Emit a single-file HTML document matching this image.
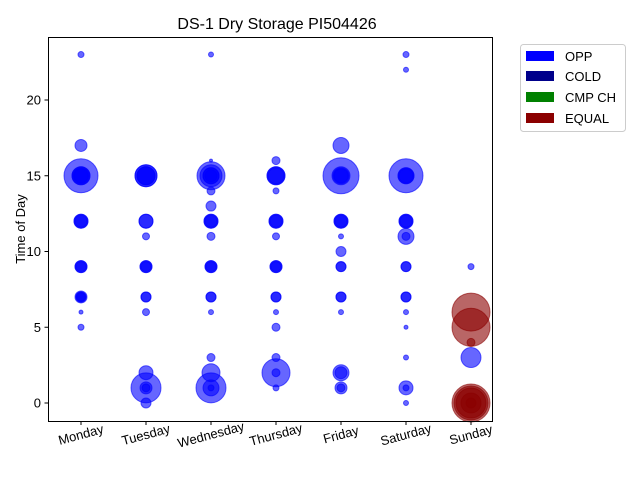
<!DOCTYPE html>
<html><head><meta charset="utf-8"><style>
body{margin:0;background:#fff;font-family:"Liberation Sans",sans-serif}
svg text{font-family:"Liberation Sans",sans-serif}
</style></head><body>
<svg id="chart" width="640" height="480" viewBox="0 0 640 480">
<rect width="640" height="480" fill="#fff"/>
<text x="277" y="29" font-size="16" text-anchor="middle">DS-1 Dry Storage PI504426</text>
<g id="marks"></g>
<g id="axes"></g>
<g>
<rect x="520.5" y="44.5" width="105" height="87" rx="3" fill="#fff" stroke="#ccc"/>
<rect x="526" y="51" width="28" height="10" fill="#0000ff"/>
<text x="565" y="61" font-size="13">OPP</text>
<rect x="526" y="71" width="28" height="10" fill="#00008b"/>
<text x="565" y="81" font-size="13">COLD</text>
<rect x="526" y="92" width="28" height="10" fill="#008000"/>
<text x="565" y="102" font-size="13">CMP CH</text>
<rect x="526" y="113" width="28" height="10" fill="#8b0000"/>
<text x="565" y="123" font-size="13">EQUAL</text>
</g>
</svg>
<script>
const categories=["Monday","Tuesday","Wednesday","Thursday","Friday","Saturday","Sunday"];
const yTicks=[0,5,10,15,20];
const ptDay=[0,0,0,0,0,0,0,0,0,0,0,0,0,0,0,
1,1,1,1,1,1,1,1,1,1,1,1,1,
2,2,2,2,2,2,2,2,2,2,2,2,2,2,2,2,2,2,2,2,
3,3,3,3,3,3,3,3,3,3,3,3,3,3,3,3,
4,4,4,4,4,4,4,4,4,4,4,4,4,4,4,
5,5,5,5,5,5,5,5,5,5,5,5,5,5,5,5,5,
6,6,6,6,6,6,6,6,6,
0,0,0,0,1,1,1,1,1,2,2,2,2,3,3,3,3,4,4,4,4,5,5,5,5,6];
const ptHour=[23,17,15,15,15,12,12,9,9,7,7,6,5,15,7,
15,15,12,11,9,9,7,6,2,1,1,1,0,
23,16,15,15,15,15,14,13,12,12,11,9,9,7,6,3,2,1,1,1,
16,15,15,14,12,12,11,9,9,7,6,5,3,2,2,1,
17,15,15,15,12,12,11,10,9,7,6,2,2,1,1,
23,22,15,15,15,12,12,11,11,9,7,6,5,3,1,1,0,
9,3,6,5,4,0,0,0,0,
15,12,9,7,15,15,12,9,7,12,9,7,15,15,12,9,7,15,12,9,7,15,12,9,7,0];
const ptRadius=[3,6,17,9,8,7,6,6,5,6,4,2,3,7,5,
11,9,7,3.5,6,5,5,3.5,7,15,6,4,5,
2.5,1.5,14,11,8,6,4,5,7,6,4,6,5,5,2.5,4,9,15,8,3,
4,9,8,3,7,6,3.5,6,5,5,2.5,4,4,14,4,3,
8,18,9,7,7,6,2.5,5,5,5,2.5,8,6,6,4,
3,2.5,17,8,7,7,6,8,4,5,5,2.5,2,2.5,7,3,2.5,
3,10,19,19,4,19,15,10,5,
9,7,6,5,11,9,7,6,5,7,6,5,8,9,7,6,5,8,7,5,5,8,7,5,5,17];
const ptSeries=["OPP","OPP","OPP","OPP","OPP","OPP","OPP","OPP","OPP","OPP","OPP","OPP","OPP","OPP","OPP",
"OPP","OPP","OPP","OPP","OPP","OPP","OPP","OPP","OPP","OPP","OPP","OPP","OPP",
"OPP","OPP","OPP","OPP","OPP","OPP","OPP","OPP","OPP","OPP","OPP","OPP","OPP","OPP","OPP","OPP","OPP","OPP","OPP","OPP",
"OPP","OPP","OPP","OPP","OPP","OPP","OPP","OPP","OPP","OPP","OPP","OPP","OPP","OPP","OPP","OPP",
"OPP","OPP","OPP","OPP","OPP","OPP","OPP","OPP","OPP","OPP","OPP","OPP","OPP","OPP","OPP",
"OPP","OPP","OPP","OPP","OPP","OPP","OPP","OPP","OPP","OPP","OPP","OPP","OPP","OPP","OPP","OPP","OPP",
"OPP","OPP","EQUAL","EQUAL","EQUAL","EQUAL","EQUAL","EQUAL","EQUAL",
"OPP","OPP","OPP","OPP","OPP","OPP","OPP","OPP","OPP","OPP","OPP","OPP","OPP","OPP","OPP","OPP","OPP","OPP","OPP","OPP","OPP","OPP","OPP","OPP","OPP","EQUAL"];
const colors={OPP:"#0000ff",COLD:"#00008b","CMP CH":"#008000",EQUAL:"#8b0000"};
const L=48,R=492,T=37,B=421;
function xs(i){return 81+i*65;}
function ys(v){return 403-v*(303/20);}
const NS="http://www.w3.org/2000/svg";
const marks=document.getElementById('marks'),axes=document.getElementById('axes');
function mk(tag,a,p){const e=document.createElementNS(NS,tag);for(const k in a)e.setAttribute(k,a[k]);p.appendChild(e);return e;}
for(let i=0;i<ptDay.length;i++){
 const c=mk('circle',{cx:xs(ptDay[i]),cy:ys(ptHour[i]),r:ptRadius[i],fill:colors[ptSeries[i]],'fill-opacity':0.6,stroke:colors[ptSeries[i]],'stroke-opacity':0.6,'stroke-width':1},marks);
 
 
}
const fr=mk('rect',{x:L+0.5,y:T+0.5,width:R-L,height:B-T,fill:'none',stroke:'#000','stroke-width':1},axes);


yTicks.forEach(v=>{
 const y=ys(v);
 mk('line',{x1:L-3.5,x2:L+0.5,y1:y,y2:y,stroke:'#000'},axes);
 const t=mk('text',{x:L-7,y:y+4.5,'font-size':13,'text-anchor':'end'},axes);
 t.textContent=v;
 
 
});
categories.forEach((c,i)=>{
 const x=xs(i);
 mk('line',{x1:x,x2:x,y1:B+0.5,y2:B+4,stroke:'#000'},axes);
 const t=mk('text',{x:x,y:B+18,'font-size':13,'text-anchor':'middle',transform:`rotate(-15 ${x} ${B+14})`},axes);
 t.textContent=c;
 
 
});
const yt=mk('text',{x:25,y:229,'font-size':13,'text-anchor':'middle',transform:'rotate(-90 25 229)'},axes);
yt.textContent='Time of Day';


</script>
</body></html>
